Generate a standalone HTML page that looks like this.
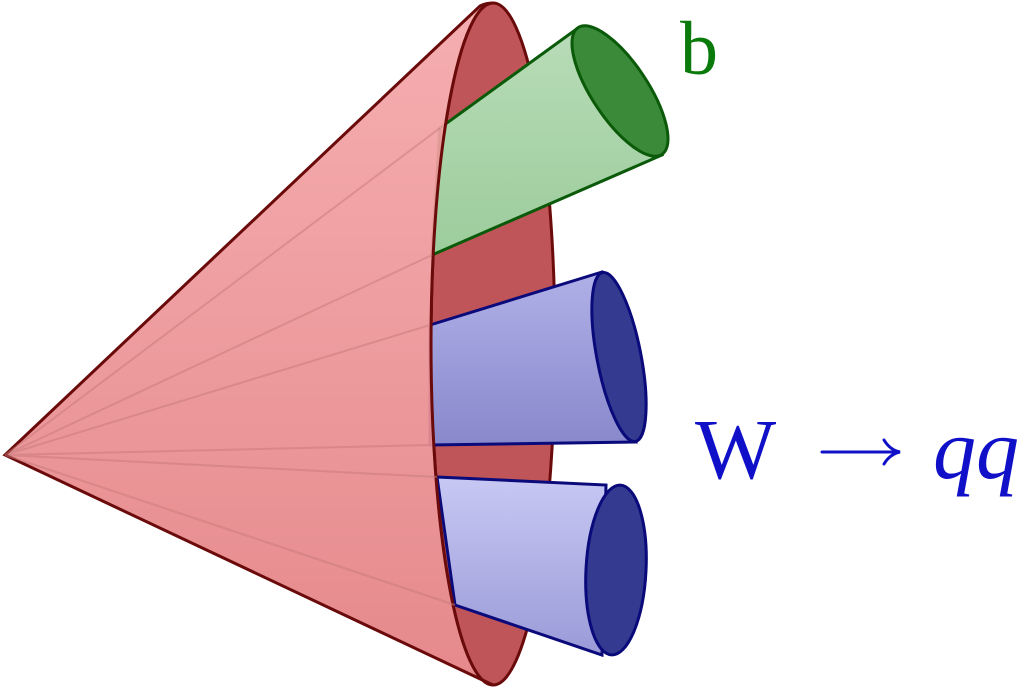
<!DOCTYPE html>
<html><head><style>body{margin:0;background:#fff}svg{display:block}</style></head>
<body>
<svg width="1024" height="687" viewBox="0 0 1024 687" xmlns="http://www.w3.org/2000/svg">
<defs>
<linearGradient id="pk" x1="0" y1="0" x2="0" y2="1"><stop offset="0" stop-color="#f5a8aa"/><stop offset="1" stop-color="#e38083"/></linearGradient>
<linearGradient id="gr" x1="0" y1="0" x2="0" y2="1"><stop offset="0" stop-color="#b8dcb8"/><stop offset="1" stop-color="#9ccc9c"/></linearGradient>
<linearGradient id="bl1" x1="0" y1="0" x2="0" y2="1"><stop offset="0" stop-color="#b0b0e8"/><stop offset="1" stop-color="#8888cc"/></linearGradient>
<linearGradient id="bl2" x1="0" y1="0" x2="0" y2="1"><stop offset="0" stop-color="#c8c8f4"/><stop offset="1" stop-color="#9a9ad8"/></linearGradient>
</defs>
<ellipse cx="493" cy="344" rx="62" ry="341" fill="#bf5558" stroke="#6a0a0a" stroke-width="3"/>
<polygon points="440,128 578,28 662,155 432,255" fill="url(#gr)" stroke="#0a5a0a" stroke-width="3"/>
<ellipse cx="620" cy="91" rx="28" ry="76" transform="rotate(-33.5 620 91)" fill="#3a8a3a" stroke="#0a5a0a" stroke-width="3"/>
<polygon points="430,325 602,272 636,442 430,445" fill="url(#bl1)" stroke="#0a0a7a" stroke-width="3"/>
<ellipse cx="619" cy="357" rx="22" ry="86" transform="rotate(-11 619 357)" fill="#333a8f" stroke="#0a0a7a" stroke-width="3"/>
<polygon points="437,477 606,485 602,655 455,605" fill="url(#bl2)" stroke="#0a0a7a" stroke-width="3"/>
<ellipse cx="616" cy="570" rx="30" ry="85" transform="rotate(3 616 570)" fill="#333a8f" stroke="#0a0a7a" stroke-width="3"/>
<path d="M5,455 L480,6 Q486,3 493,3 A62,341 0 0 0 493,685 Z" fill="url(#pk)" fill-opacity="0.93" stroke="#6a0a0a" stroke-width="3"/>
<g stroke="#c87a7a" stroke-width="2" opacity="0.5">
<line x1="5" y1="455" x2="440" y2="128"/><line x1="5" y1="455" x2="432" y2="255"/>
<line x1="5" y1="455" x2="430" y2="325"/><line x1="5" y1="455" x2="430" y2="445"/>
<line x1="5" y1="455" x2="437" y2="477"/><line x1="5" y1="455" x2="455" y2="605"/>
</g>
<text x="680" y="74" font-family="Liberation Serif, serif" font-size="76" fill="#0a7a0a">b</text>
<text x="695" y="478" font-family="Liberation Serif, serif" font-size="86" fill="#1010c8">W</text>
<g stroke="#1010c8" stroke-width="3" fill="none" stroke-linecap="round">
<line x1="822" y1="452" x2="898" y2="452"/>
<path d="M884,440 Q890,450 900,452 Q890,454 884,464"/>
</g>
<text x="933" y="478" font-family="Liberation Serif, serif" font-size="86" font-style="italic" fill="#1010c8">qq</text>
</svg>
</body></html>
